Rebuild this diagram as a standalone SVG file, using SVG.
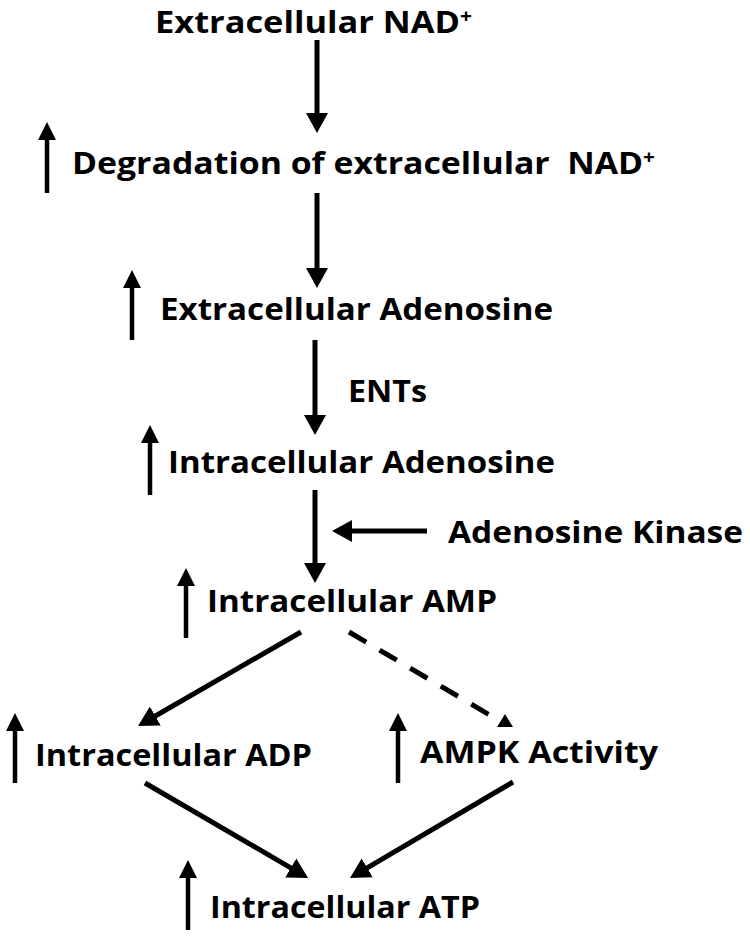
<svg xmlns="http://www.w3.org/2000/svg" width="750" height="936" viewBox="0 0 750 936">
<style>
.t{font-family:"Open Sans","Liberation Sans",Arial,sans-serif;font-weight:700;font-size:31px;fill:#000}
.sup{font-size:19px}
.c{stroke:#000;stroke-width:5;fill:none}
.u{stroke:#000;stroke-width:4.5;fill:none}
</style>
<defs>
<marker id="ah" markerUnits="userSpaceOnUse" markerWidth="22" markerHeight="22" refX="2" refY="11" orient="auto"><path d="M0,0 L20,11 L0,22 z" fill="#000"/></marker>
<marker id="ahs" markerUnits="userSpaceOnUse" markerWidth="18" markerHeight="18" refX="2" refY="9" orient="auto"><path d="M0,0 L18,9 L0,18 z" fill="#000"/></marker>
</defs>
<rect width="750" height="936" fill="#fff"/>
<g id="n1"><text class="t" x="155" y="33" textLength="317" lengthAdjust="spacingAndGlyphs">Extracellular NAD<tspan class="sup" dy="-10">+</tspan></text></g>
<g id="n2"><path class="u" d="M47,193 V138" marker-end="url(#ahs)"/><text class="t" x="72" y="174" textLength="583" lengthAdjust="spacingAndGlyphs" xml:space="preserve">Degradation of extracellular  NAD<tspan class="sup" dy="-10">+</tspan></text></g>
<g id="n3"><path class="u" d="M132,340 V286" marker-end="url(#ahs)"/><text class="t" x="160" y="320" textLength="393" lengthAdjust="spacingAndGlyphs">Extracellular Adenosine</text></g>
<g id="n4"><text class="t" x="348" y="402" textLength="79" lengthAdjust="spacingAndGlyphs">ENTs</text></g>
<g id="n5"><path class="u" d="M150,495 V441" marker-end="url(#ahs)"/><text class="t" x="168" y="473" textLength="387" lengthAdjust="spacingAndGlyphs">Intracellular Adenosine</text></g>
<g id="n6"><text class="t" x="448" y="543" textLength="295" lengthAdjust="spacingAndGlyphs">Adenosine Kinase</text></g>
<g id="n7"><path class="u" d="M186,638 V584" marker-end="url(#ahs)"/><text class="t" x="207" y="612" textLength="290" lengthAdjust="spacingAndGlyphs">Intracellular AMP</text></g>
<g id="n8"><path class="u" d="M15,783 V729" marker-end="url(#ahs)"/><text class="t" x="35" y="766" textLength="277" lengthAdjust="spacingAndGlyphs">Intracellular ADP</text></g>
<g id="n9"><path class="u" d="M398,783 V729" marker-end="url(#ahs)"/><text class="t" x="420" y="763" textLength="238" lengthAdjust="spacingAndGlyphs">AMPK Activity</text></g>
<g id="n10"><path class="u" d="M188,930 V876" marker-end="url(#ahs)"/><text class="t" x="210" y="918" textLength="270" lengthAdjust="spacingAndGlyphs">Intracellular ATP</text></g>
<g id="connectors">
<path class="c" d="M317,40 V115" marker-end="url(#ah)"/>
<path class="c" d="M317,193 V270" marker-end="url(#ah)"/>
<path class="c" d="M315,340 V417" marker-end="url(#ah)"/>
<path class="c" d="M315,490 V565" marker-end="url(#ah)"/>
<path class="c" d="M427,531 H350" marker-end="url(#ah)"/>
<path class="c" d="M301,632 L153.6,717" marker-end="url(#ah)"/>
<path class="c" d="M349,632 L488.5,714.3" stroke-dasharray="20 15.5"/>
<polygon points="505,714 497,727 513,727" fill="#000"/>
<path class="c" d="M145,783 L292.5,868.9" marker-end="url(#ah)"/>
<path class="c" d="M513,782 L365.5,868.9" marker-end="url(#ah)"/>
</g>
</svg>
